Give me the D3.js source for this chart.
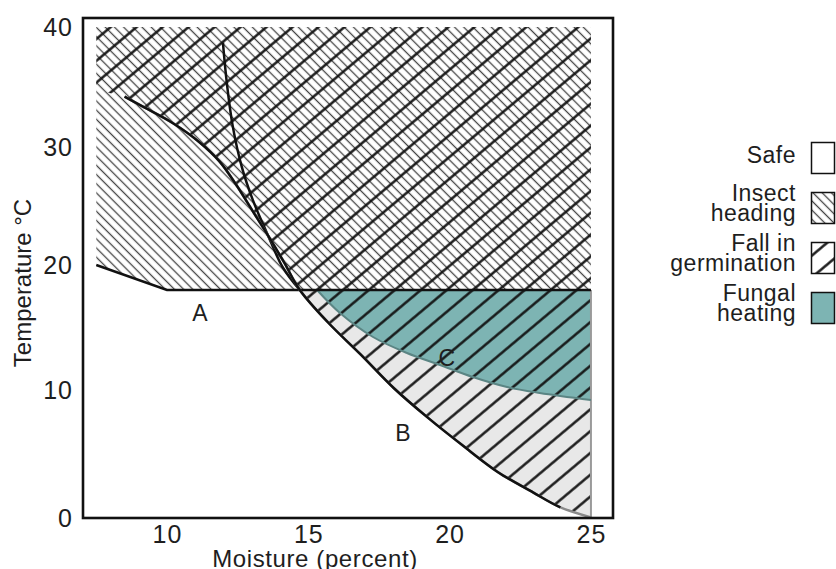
<!DOCTYPE html>
<html>
<head>
<meta charset="utf-8">
<script src="https://cdn.jsdelivr.net/npm/d3@7"></script>
<style>
  body { margin: 0; background: #fff; }
  text { font-family: "Liberation Sans", Arial, sans-serif; fill: #1e1e1e; }
</style>
</head>
<body>
<div id="chart-area"></div>
<script>
// grain storage chart: moisture vs temperature

const WIDTH = 836
const HEIGHT = 569
const TEAL = "#7db4b3"

// tick labels
const moistureTicks = [10, 15, 20, 25]
const tempTicks = [0, 10, 20, 30, 40]

// boundary lines, [moisture, temperature]
const lineA = [[7.5, 20], [10, 18], [25, 18]]
const curveB = [[8.5, 34.2], [9.2, 33.3], [10.2, 32.0], [11.15, 30.4], [11.85, 28.8], [12.45, 26.8],
  [13.05, 24.5], [13.6, 22.4], [14.15, 20.2], [14.7, 18], [15.7, 15.4], [16.85, 12.85], [18.05, 10.1],
  [19.25, 7.8], [20.5, 5.6], [21.7, 3.6], [22.95, 2.0], [23.9, 0.85], [25, 0.05]]
const curveC = [[15.31, 18], [16.12, 16.16], [17.29, 14.24], [18.49, 12.96], [19.66, 12.0],
  [20.82, 11.04], [22.03, 10.24], [23.19, 9.77], [25, 9.22]]
const steepCurve = [[11.98, 38.7], [12.12, 35.3], [12.33, 31.7], [12.65, 28.3], [13.04, 25.5],
  [13.54, 22.7], [14.1, 19.8], [14.7, 18]]
const insectRegion = [[7.5, 40], [25, 40], [25, 18], [10, 18], [7.5, 20]]

// curve letters
const curveLabels = ["A", "B", "C"]
const curveLabelPos = [[11.17, 16.2], [18.35, 6.7], [19.9, 12.6]]

// legend
const legendNames = [["Safe"], ["Insect", "heading"], ["Fall in", "germination"], ["Fungal", "heating"]]

const svg = d3.select("#chart-area").append("svg")
  .attr("width", WIDTH)
  .attr("height", HEIGHT)

// Scales
const x = d3.scaleLinear()
  .domain([7.03, 25.78])
  .range([83, 613])
const y = d3.scaleLinear()
  .domain([0, 10, 20, 30, 40, 40.75])
  .range([518, 390, 265, 147, 27, 18])

const line = d3.line()
  .x(d => x(d[0]))
  .y(d => y(d[1]))
  .curve(d3.curveCatmullRom.alpha(0.5))
const straight = d3.line()
  .x(d => x(d[0]))
  .y(d => y(d[1]))

// hatch patterns
const defs = svg.append("defs")
const thin = defs.append("pattern")
  .attr("id", "thin")
  .attr("patternUnits", "userSpaceOnUse")
  .attr("width", 6.5).attr("height", 6.5)
  .attr("patternTransform", "rotate(-45)")
thin.append("line")
  .attr("x1", 3.25).attr("y1", 0).attr("x2", 3.25).attr("y2", 6.5)
  .attr("stroke", "#444").attr("stroke-width", 1.3)

const thick = defs.append("pattern")
  .attr("id", "thick")
  .attr("patternUnits", "userSpaceOnUse")
  .attr("width", 16.7).attr("height", 16.7)
  .attr("patternTransform", "rotate(50)")
thick.append("line")
  .attr("x1", 8.35).attr("y1", 0).attr("x2", 8.35).attr("y2", 16.7)
  .attr("stroke", "#111").attr("stroke-width", 2.4)

const g = svg.append("g")

// gray zone right of B, below 18
const lowerB = curveB.filter(d => d[1] <= 18)
g.append("path")
  .attr("d", line(lowerB) + `L${x(25)},${y(18)}Z`)
  .attr("fill", "#e8e8e8")

// fungal heating zone above C
g.append("path")
  .attr("d", line(curveC) + `L${x(25)},${y(18)}Z`)
  .attr("fill", TEAL)

// insect heading
g.append("path")
  .attr("d", straight(insectRegion) + "Z")
  .attr("fill", "url(#thin)")

// fall in germination
g.append("path")
  .attr("d", line(curveB) + `L${x(25)},${y(40)}L${x(7.5)},${y(40)}L${x(7.5)},${y(34.75)}Z`)
  .attr("fill", "url(#thick)")

// right edge of the zones
g.append("path")
  .attr("d", straight([[25, 18], [25, 0]]))
  .attr("stroke", "#9a9a9a").attr("stroke-width", 2).attr("fill", "none")

g.append("path")
  .attr("d", line(curveC))
  .attr("stroke", "#5b8584").attr("stroke-width", 2).attr("fill", "none")

g.append("path")
  .attr("d", straight(lineA))
  .attr("stroke", "#111").attr("stroke-width", 2.5).attr("fill", "none")

g.append("path")
  .attr("d", line(steepCurve))
  .attr("stroke", "#111").attr("stroke-width", 2.5).attr("fill", "none")

// B fades to gray near the bottom
g.append("path")
  .attr("d", line(curveB))
  .attr("stroke", "#8a8a8a").attr("stroke-width", 2.5).attr("fill", "none")
const bPath = g.append("path")
  .attr("d", line(curveB))
  .attr("stroke", "#111").attr("stroke-width", 2.5).attr("fill", "none")
const total = bPath.node().getTotalLength()
let cut = total
for (let l = 0; l < total; l += 1) {
  if (bPath.node().getPointAtLength(l).x >= x(23.9)) { cut = l; break }
}
bPath.attr("stroke-dasharray", `${cut} ${total}`)

// curve letters
g.selectAll(".curve-label")
  .data(curveLabels)
  .enter().append("text")
  .attr("class", "curve-label")
  .attr("x", (d, i) => x(curveLabelPos[i][0]))
  .attr("y", (d, i) => y(curveLabelPos[i][1]))
  .attr("dy", "0.36em")
  .attr("text-anchor", "middle")
  .attr("font-size", "23px")
  .text(d => d)

// frame
g.append("rect")
  .attr("x", x(7.03))
  .attr("y", y(40.75))
  .attr("width", x(25.78) - x(7.03))
  .attr("height", y(0) - y(40.75))
  .attr("fill", "none")
  .attr("stroke", "#111")
  .attr("stroke-width", 2.6)

// Axes
const xAxisCall = d3.axisBottom(x)
  .tickValues(moistureTicks)
  .tickSize(0)
  .tickPadding(7)
const xAxis = svg.append("g")
  .attr("transform", `translate(0, ${y(0)})`)
  .call(xAxisCall)
xAxis.select(".domain").remove()
xAxis.selectAll("text")
  .attr("font-size", "25px")
  .attr("letter-spacing", "1px")
  .attr("font-family", "Liberation Sans, Arial, sans-serif")
  .attr("fill", "#1e1e1e")

const yAxisCall = d3.axisLeft(y)
  .tickValues(tempTicks)
  .tickSize(0)
  .tickPadding(10)
const yAxis = svg.append("g")
  .attr("transform", `translate(${x(7.03)}, 0)`)
  .call(yAxisCall)
yAxis.select(".domain").remove()
yAxis.selectAll("text")
  .attr("font-size", "25px")
  .attr("letter-spacing", "1px")
  .attr("font-family", "Liberation Sans, Arial, sans-serif")
  .attr("fill", "#1e1e1e")

// Labels
svg.append("text")
  .attr("x", 315)
  .attr("y", 567)
  .attr("font-size", "24px")
  .attr("letter-spacing", "0.6px")
  .attr("text-anchor", "middle")
  .text("Moisture (percent)")
svg.append("text")
  .attr("transform", "translate(31, 283) rotate(-90)")
  .attr("font-size", "24px")
  .attr("text-anchor", "middle")
  .text("Temperature °C")

// Legend
const legendFills = ["#fff", "url(#thin)", "url(#thick)", TEAL]
const legend = svg.append("g")
  .attr("transform", "translate(796, 158)")

legendNames.forEach((names, i) => {
  const row = legend.append("g")
    .attr("transform", `translate(0, ${i * 50})`)

  row.append("rect")
    .attr("x", 15.5)
    .attr("y", -15.5)
    .attr("width", 23)
    .attr("height", 31)
    .attr("fill", legendFills[i])
    .attr("stroke", "#111")
    .attr("stroke-width", 1.5)

  const label = row.append("text")
    .attr("y", names.length === 1 ? 5 : -7)
    .attr("text-anchor", "end")
    .attr("font-size", "23px")
    .attr("letter-spacing", "0.5px")
  names.forEach((name, j) => {
    label.append("tspan")
      .attr("x", 0)
      .attr("dy", j === 0 ? 0 : 20)
      .text(name)
  })
})
</script>
</body>
</html>
